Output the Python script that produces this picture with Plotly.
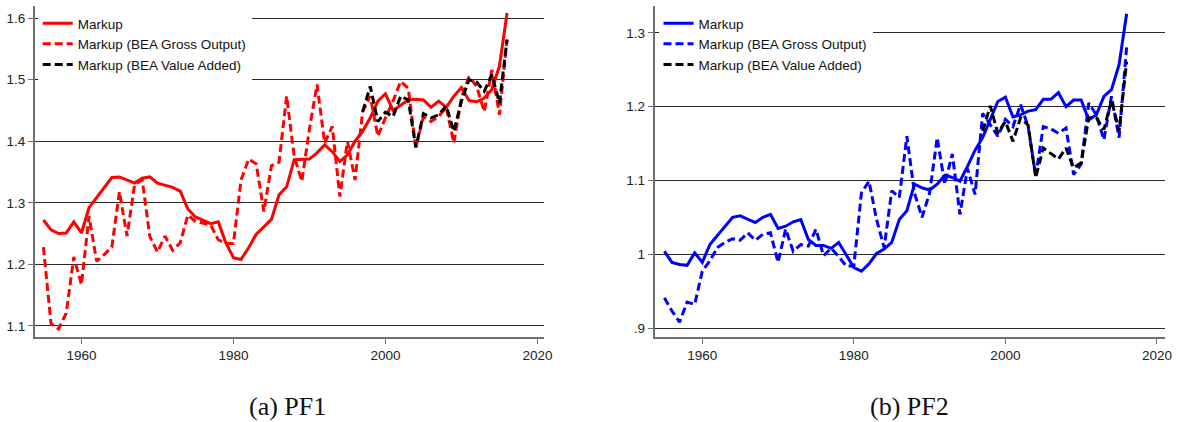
import plotly.graph_objects as go

years = list(range(1955, 2017))
years_va = list(range(1997, 2017))

# Panel (a) PF1
pf1_markup = [1.272, 1.256, 1.250, 1.251, 1.269, 1.251, 1.292, 1.308, 1.326, 1.341,
              1.342, 1.337, 1.332, 1.340, 1.342, 1.332, 1.329, 1.325, 1.319, 1.290,
              1.277, 1.271, 1.266, 1.269, 1.235, 1.211, 1.208, 1.227, 1.249, 1.261,
              1.273, 1.313, 1.326, 1.370, 1.370, 1.371, 1.381, 1.394, 1.383, 1.367,
              1.378, 1.400, 1.416, 1.438, 1.465, 1.477, 1.450, 1.458, 1.467, 1.468,
              1.467, 1.455, 1.465, 1.455, 1.473, 1.487, 1.466, 1.464, 1.470, 1.484,
              1.522, 1.608]
pf1_gross = [1.228, 1.104, 1.095, 1.121, 1.212, 1.167, 1.278, 1.205, 1.216, 1.228,
             1.318, 1.246, 1.330, 1.337, 1.245, 1.220, 1.246, 1.223, 1.235, 1.280,
             1.270, 1.267, 1.264, 1.240, 1.234, 1.234, 1.337, 1.371, 1.363, 1.286,
             1.360, 1.366, 1.473, 1.375, 1.335, 1.420, 1.492, 1.397, 1.424, 1.310,
             1.400, 1.337, 1.448, 1.473, 1.408, 1.438, 1.465, 1.497, 1.486, 1.389,
             1.440, 1.432, 1.440, 1.455, 1.397, 1.470, 1.505, 1.489, 1.448, 1.516,
             1.443, 1.565]
pf1_va = [1.448, 1.489, 1.432, 1.447, 1.440, 1.473, 1.467, 1.390, 1.445, 1.438,
          1.443, 1.457, 1.416, 1.465, 1.500, 1.496, 1.481, 1.508, 1.462, 1.565]

# Panel (b) PF2
pf2_markup = [1.004, 0.989, 0.986, 0.985, 1.002, 0.989, 1.013, 1.025, 1.038, 1.050,
              1.052, 1.047, 1.043, 1.050, 1.054, 1.035, 1.038, 1.044, 1.047, 1.020,
              1.012, 1.012, 1.008, 1.016, 0.998, 0.982, 0.977, 0.987, 1.001, 1.007,
              1.016, 1.047, 1.059, 1.095, 1.090, 1.087, 1.095, 1.107, 1.104, 1.099,
              1.119, 1.141, 1.158, 1.183, 1.207, 1.213, 1.186, 1.189, 1.194, 1.196,
              1.210, 1.210, 1.219, 1.200, 1.209, 1.209, 1.182, 1.189, 1.214, 1.223,
              1.257, 1.326]
pf2_gross = [0.941, 0.923, 0.908, 0.935, 0.932, 0.977, 0.991, 1.009, 1.016, 1.021,
             1.019, 1.029, 1.019, 1.027, 1.029, 0.989, 1.034, 1.004, 1.013, 1.011,
             1.034, 0.998, 1.008, 0.997, 0.984, 0.984, 1.083, 1.099, 1.047, 1.009,
             1.086, 1.077, 1.160, 1.083, 1.050, 1.083, 1.158, 1.095, 1.136, 1.054,
             1.116, 1.081, 1.191, 1.176, 1.160, 1.183, 1.173, 1.203, 1.173, 1.106,
             1.173, 1.170, 1.164, 1.171, 1.108, 1.122, 1.205, 1.189, 1.155, 1.214,
             1.158, 1.281]
pf2_va = [1.167, 1.201, 1.164, 1.180, 1.153, 1.185, 1.175, 1.104, 1.144, 1.136,
          1.129, 1.144, 1.117, 1.124, 1.185, 1.185, 1.169, 1.209, 1.167, 1.261]

x_ticks = [1960, 1980, 2000, 2020]
pf1_yticks = [1.1, 1.2, 1.3, 1.4, 1.5, 1.6]
pf1_yticktext = ["1.1", "1.2", "1.3", "1.4", "1.5", "1.6"]
pf2_yticks = [0.9, 1.0, 1.1, 1.2, 1.3]
pf2_yticktext = [".9", "1", "1.1", "1.2", "1.3"]

names = ["Markup", "Markup (BEA Gross Output)", "Markup (BEA Value Added)"]
captions = ["(a) PF1", "(b) PF2"]

W, H = 1181, 422
DASH = "8px,4px"
LW = 3

fig = go.Figure()

def add_panel(xa, ya, leg, color, markup, gross, va):
    fig.add_trace(go.Scatter(x=years, y=markup, mode="lines", name=names[0],
                             line=dict(color=color, width=LW), xaxis=xa, yaxis=ya, legend=leg))
    fig.add_trace(go.Scatter(x=years, y=gross, mode="lines", name=names[1],
                             line=dict(color=color, width=LW, dash=DASH), xaxis=xa, yaxis=ya, legend=leg))
    fig.add_trace(go.Scatter(x=years_va, y=va, mode="lines", name=names[2],
                             line=dict(color="black", width=LW, dash=DASH), xaxis=xa, yaxis=ya, legend=leg))

add_panel("x", "y", "legend", "#ff0000", pf1_markup, pf1_gross, pf1_va)
add_panel("x2", "y2", "legend2", "#0000ff", pf2_markup, pf2_gross, pf2_va)

ydom = [(H - 337) / H, (H - 6) / H]
FS = 13.5
tickfont = dict(family="Liberation Sans, Arial, sans-serif", size=FS, color="#222")
axis_common = dict(showline=True, linecolor="#707070", linewidth=1.5, ticks="outside",
                   ticklen=5, tickcolor="#707070", tickwidth=1.2, tickfont=tickfont,
                   zeroline=False, mirror=False)
legfont = dict(family="Liberation Sans, Arial, sans-serif", size=FS, color="#111")

fig.update_layout(
    width=W, height=H,
    margin=dict(l=0, r=0, t=0, b=0),
    paper_bgcolor="white", plot_bgcolor="white",
    xaxis=dict(domain=[35 / W, 548 / W], range=[1953.86, 2020.9], tickvals=x_ticks,
               showgrid=False, anchor="y", **axis_common),
    yaxis=dict(domain=ydom, range=[1.0821, 1.6195], tickvals=pf1_yticks, ticktext=pf1_yticktext,
               showgrid=True, gridcolor="#2a2a2a", gridwidth=1.2, anchor="x", **axis_common),
    xaxis2=dict(domain=[659 / W, 1173 / W], range=[1953.7, 2021.07], tickvals=x_ticks,
                showgrid=False, anchor="y2", **axis_common),
    yaxis2=dict(domain=ydom, range=[0.8878, 1.3365], tickvals=pf2_yticks, ticktext=pf2_yticktext,
                showgrid=True, gridcolor="#2a2a2a", gridwidth=1.2, anchor="x2", **axis_common),
    legend=dict(x=38 / W, y=1 - 8 / H, xanchor="left", yanchor="top", bgcolor="white",
                font=legfont, tracegroupgap=0),
    legend2=dict(x=663 / W, y=1 - 8 / H, xanchor="left", yanchor="top", bgcolor="white",
                 font=legfont, tracegroupgap=0),
    showlegend=True,
)

cap_x = [289 / W, 916 / W]
for cx, txt in zip(cap_x, captions):
    fig.add_annotation(x=cx, y=(H - 406) / H, xref="paper", yref="paper", text=txt,
                       showarrow=False, xanchor="center", yanchor="middle",
                       font=dict(family="Liberation Serif, Times New Roman, serif", size=26, color="#111"))

fig.write_html("out.html", config={"displayModeBar": False},
               post_script="document.body.style.margin='0';document.body.style.overflow='hidden';")
